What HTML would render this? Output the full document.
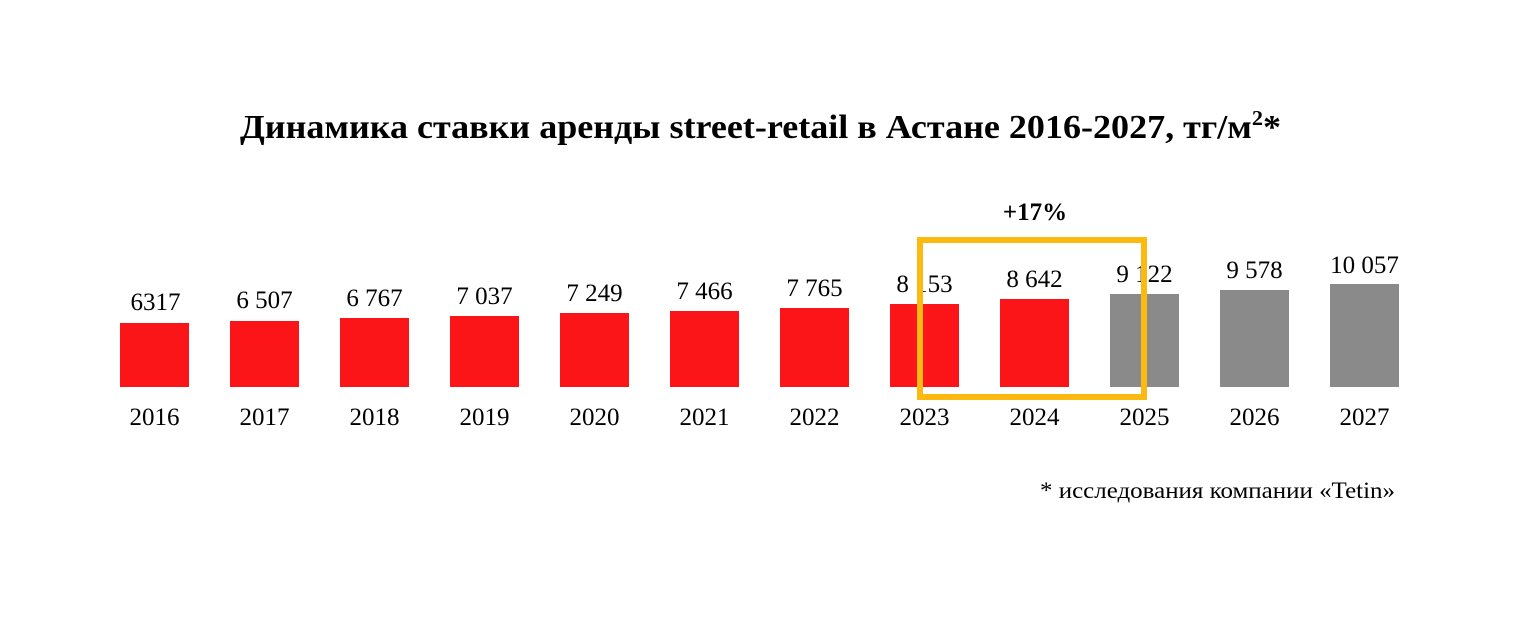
<!DOCTYPE html>
<html><head><meta charset="utf-8"><style>
body{margin:0;width:1515px;height:634px;background:#fff;overflow:hidden}
svg text{font-family:"Liberation Serif",serif;fill:#000}
</style></head><body>
<svg width="1515" height="634" viewBox="0 0 1515 634">
<text x="240" y="138" font-size="34" font-weight="bold" textLength="1041" lengthAdjust="spacingAndGlyphs">Динамика ставки аренды street-retail в Астане 2016-2027, тг/м<tspan font-size="21" dy="-13">2</tspan><tspan dy="13">*</tspan></text>
<g font-size="25" text-anchor="middle">
<rect x="120" y="323" width="69" height="64" fill="#fb1418"/><text x="155.5" y="310">6317</text><text x="154.5" y="425">2016</text>
<rect x="230" y="321" width="69" height="66" fill="#fb1418"/><text x="264.5" y="308">6 507</text><text x="264.5" y="425">2017</text>
<rect x="340" y="318" width="69" height="69" fill="#fb1418"/><text x="374.5" y="306">6 767</text><text x="374.5" y="425">2018</text>
<rect x="450" y="316" width="69" height="71" fill="#fb1418"/><text x="484.5" y="304">7 037</text><text x="484.5" y="425">2019</text>
<rect x="560" y="313" width="69" height="74" fill="#fb1418"/><text x="594.5" y="301">7 249</text><text x="594.5" y="425">2020</text>
<rect x="670" y="311" width="69" height="76" fill="#fb1418"/><text x="704.5" y="299">7 466</text><text x="704.5" y="425">2021</text>
<rect x="780" y="308" width="69" height="79" fill="#fb1418"/><text x="814.5" y="296">7 765</text><text x="814.5" y="425">2022</text>
<rect x="890" y="304" width="69" height="83" fill="#fb1418"/><text x="924.5" y="292">8 153</text><text x="924.5" y="425">2023</text>
<rect x="1000" y="299" width="69" height="88" fill="#fb1418"/><text x="1034.5" y="287">8 642</text><text x="1034.5" y="425">2024</text>
<rect x="1110" y="294" width="69" height="93" fill="#8a8a8a"/><text x="1144.5" y="282">9 122</text><text x="1144.5" y="425">2025</text>
<rect x="1220" y="290" width="69" height="97" fill="#8a8a8a"/><text x="1254.5" y="278">9 578</text><text x="1254.5" y="425">2026</text>
<rect x="1330" y="284" width="69" height="103" fill="#8a8a8a"/><text x="1364.5" y="273">10 057</text><text x="1364.5" y="425">2027</text>
</g>
<rect x="920" y="240" width="224" height="157" fill="none" stroke="#fcb912" stroke-width="6"/>
<text x="1035" y="220" text-anchor="middle" font-size="25" font-weight="bold">+17%</text>
<text x="1040" y="498" font-size="23" textLength="355" lengthAdjust="spacingAndGlyphs">* исследования компании «Tetin»</text>
</svg>
</body></html>
